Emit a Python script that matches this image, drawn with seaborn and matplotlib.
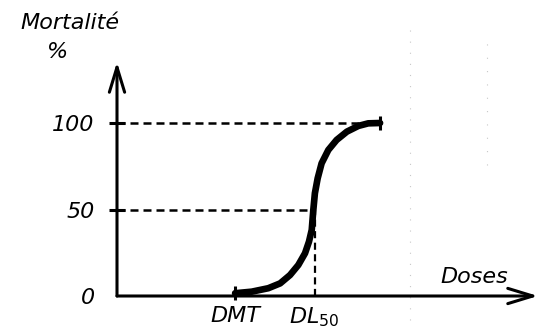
import numpy as np
import pandas as pd
import matplotlib
matplotlib.use("Agg")
import matplotlib.pyplot as plt
import seaborn as sns

# ---- data (dose units: DMT = 3, DL50 = 5) ----
dose = [2.99, 3.41, 3.83, 4.13, 4.38, 4.59, 4.76, 4.86, 4.93, 4.97, 5.01, 5.08,
        5.18, 5.35, 5.56, 5.82, 6.11, 6.36, 6.66]
mortality = [1.6, 2.5, 4.5, 7.3, 12.1, 17.9, 24.7, 31.4, 38.2, 49.7, 59.4, 68.0,
             76.7, 84.4, 90.2, 95.0, 98.3, 99.8, 100.0]
y_ticks = [0, 50, 100]
y_tick_labels = ["0", "50", "100"]
x_ticks = [3, 5]
x_tick_labels = ["DMT", "DL$_{50}$"]
dmt, dl50 = 3.0, 5.0

sns.set_style("white")
plt.rcParams["font.family"] = ["DejaVu Sans"]
plt.rcParams["mathtext.fontset"] = "dejavusans"
plt.rcParams["mathtext.default"] = "it"
plt.rcParams["text.color"] = "black"

FS = 16
W, H = 539, 331
fig = plt.figure(figsize=(W / 100, H / 100), dpi=100)
# axes: left spine at x=117px, bottom at y=296px, top 62px, right 538px
ax = fig.add_axes([117 / W, 1 - 296 / H, (538 - 117) / W, (296 - 62) / H])
ax.set_xlim(0, (538 - 117) / 39.5)
ax.set_ylim(0, (296 - 62) / 1.73)
for s in ax.spines.values():
    s.set_visible(False)

df = pd.DataFrame({"dose": dose, "mortality": mortality})

# reference dashed lines
dash = (0, (3.2, 2.0))
ax.plot([0, 6.3], [100, 100], color="black", lw=1.8, ls=dash, zorder=2)
ax.plot([0, dl50], [50, 50], color="black", lw=1.8, ls=dash, zorder=2)
ax.plot([dl50, dl50], [0, 50], color="black", lw=1.6, ls=dash, zorder=2)

# sigmoid curve
sns.lineplot(data=df, x="dose", y="mortality", ax=ax, color="black", lw=4.8,
             solid_capstyle="round", solid_joinstyle="round", zorder=3)
ax.plot([dose[0], dose[-1]], [mortality[0], mortality[-1]], ls="none", marker="|",
        ms=10, mew=2.2, color="black", zorder=4, clip_on=False)

# arrows for axes
arrow = dict(arrowstyle="->,head_length=1.8,head_width=0.55", lw=2.2, color="black",
             shrinkA=0, shrinkB=0)
ax.annotate("", xy=(1.0, 0), xytext=(0, 0), xycoords="axes fraction",
            textcoords="axes fraction", arrowprops=arrow, annotation_clip=False)
ax.annotate("", xy=(0, 1.0), xytext=(0, 0), xycoords="axes fraction",
            textcoords="axes fraction", arrowprops=arrow, annotation_clip=False)

# ticks
ax.set_yticks(y_ticks)
ax.set_yticklabels(y_tick_labels, fontsize=FS, fontstyle="italic", color="black")
ax.tick_params(axis="y", direction="inout", length=12, width=2.2, pad=10, left=True,
               colors="black")
ax.yaxis.get_major_ticks()[0].tick1line.set_visible(False)
ax.set_xticks(x_ticks)
ax.set_xticklabels(x_tick_labels, fontsize=FS, fontstyle="italic", color="black")
ax.tick_params(axis="x", length=0, pad=7, colors="black")
ax.set_xlabel("")
ax.set_ylabel("")

# axis titles
fig.text(70 / W, 1 - 23 / H, "Mortalité", fontsize=FS, fontstyle="italic",
         ha="center", va="center", color="black")
fig.text(58 / W, 1 - 52 / H, "%", fontsize=FS, fontstyle="italic",
         ha="center", va="center", color="black")
fig.text(474 / W, 1 - 277 / H, "Doses", fontsize=FS, fontstyle="italic",
         ha="center", va="center", color="black")

# faint scan artifacts
ax.plot([7.42, 7.42], [-14, 154], color="#c8c8c8", lw=0.8, ls=(0, (1, 9)), clip_on=False)
ax.plot([9.37, 9.37], [76, 148], color="#c8c8c8", lw=0.8, ls=(0, (1, 11)), clip_on=False)

fig.savefig("out.png", dpi=100)
